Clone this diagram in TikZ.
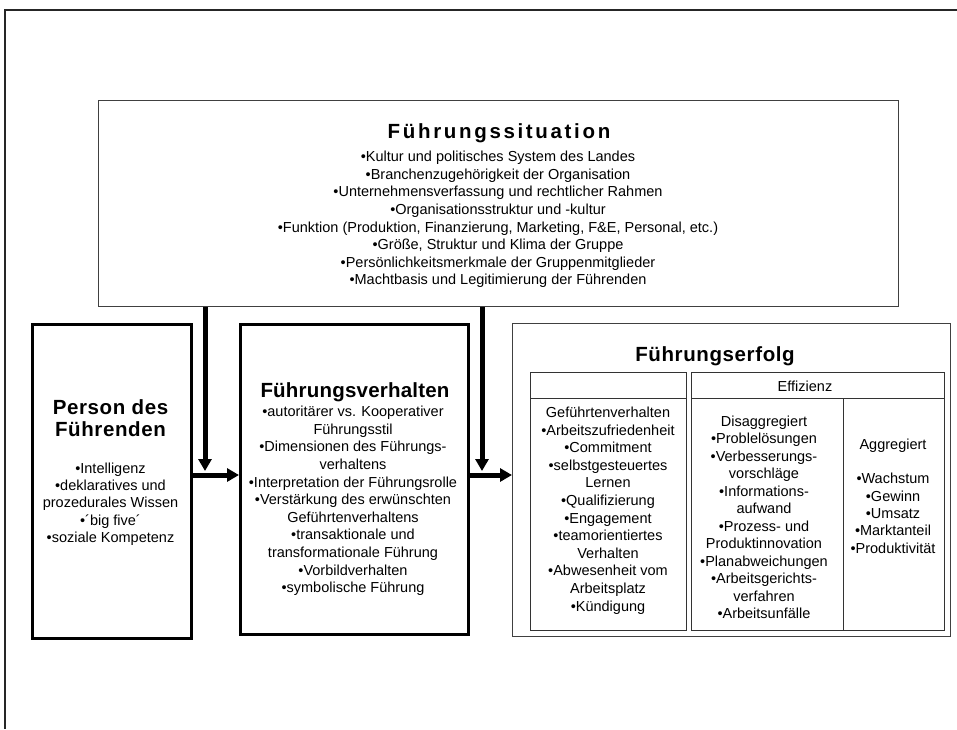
\documentclass[tikz,border=0pt]{standalone}
\usepackage{fontspec}
\setmainfont{Liberation Sans}
\usetikzlibrary{arrows.meta}
\begin{document}
\begin{tikzpicture}[x=1pt,y=-1pt,
  box/.style={draw=black!75, line width=1.3pt, inner sep=0pt, anchor=north west},
  heavybox/.style={draw=black, line width=2.6pt, inner sep=0pt, anchor=north west},
  cell/.style={draw=black!80, line width=1pt, inner sep=0pt, anchor=north west},
  ttl/.style={font=\fontsize{20.5}{22}\selectfont\bfseries\addfontfeature{LetterSpace=3}, align=center, inner sep=0pt},
  body/.style={font=\fontsize{14.5}{17.6}\selectfont, align=center, inner sep=0pt},
  arr/.style={line width=5pt, -{Triangle[length=12pt,width=13pt]}},
]
\useasboundingbox (0,0) rectangle (957,729);
% outer frame
\draw[line width=2pt, black!85] (957,10) -- (5,10) -- (5,729);

% Fuehrungssituation
\node[box, minimum width=800pt, minimum height=206pt] (sit) at (98,100) {};
\node[ttl, font=\fontsize{20.5}{22}\selectfont\bfseries\addfontfeature{LetterSpace=13}] (sitt) at (499,133) {Führungssituation};
\node[body] (sitb) at (498,219.5) {•Kultur und politisches System des Landes\\
•Branchenzugehörigkeit der Organisation\\
•Unternehmensverfassung und rechtlicher Rahmen\\
•Organisationsstruktur und -kultur\\
•Funktion (Produktion, Finanzierung, Marketing, F\&E, Personal, etc.)\\
•Größe, Struktur und Klima der Gruppe\\
•Persönlichkeitsmerkmale der Gruppenmitglieder\\
•Machtbasis und Legitimierung der Führenden};

% Person des Fuehrenden
\node[heavybox, minimum width=159pt, minimum height=314pt] (pers) at (31,323) {};
\node[ttl] (perst) at (110.5,418) {Person des\\Führenden};
\node[body, font=\fontsize{14.5}{17.25}\selectfont] (persb) at (110.5,504) {•Intelligenz\\
•deklaratives und\\
prozedurales Wissen\\
•´big five´\\
•soziale Kompetenz};

% Fuehrungsverhalten
\node[heavybox, minimum width=228pt, minimum height=310pt] (verh) at (239,323) {};
\node[ttl, font=\fontsize{20.5}{22}\selectfont\bfseries\addfontfeature{LetterSpace=1}] (verht) at (355,392) {Führungsverhalten};
\node[body] (verhb) at (353,501) {•autoritärer vs. Kooperativer\\
Führungsstil\\
•Dimensionen des Führungs-\\
verhaltens\\
•Interpretation der Führungsrolle\\
•Verstärkung des erwünschten\\
Geführtenverhaltens\\
•transaktionale und\\
transformationale Führung\\
•Vorbildverhalten\\
•symbolische Führung};

% Fuehrungserfolg
\node[box, minimum width=438pt, minimum height=313pt] (erf) at (512,323) {};
\node[ttl] (erft) at (715,356) {Führungserfolg};
\node[cell, minimum width=156pt, minimum height=26pt] (h1) at (530,372) {};
\node[cell, minimum width=253pt, minimum height=26pt] (h2) at (691,372) {};
\node[body] (efft) at (805,386) {Effizienz};
\node[cell, minimum width=156pt, minimum height=232pt] (c1) at (530,398) {};
\node[cell, minimum width=152pt, minimum height=232pt] (c2) at (691,398) {};
\node[cell, minimum width=101pt, minimum height=232pt] (c3) at (843,398) {};
\node[body] (c1b) at (608,510.5) {Geführtenverhalten\\
•Arbeitszufriedenheit\\
•Commitment\\
•selbstgesteuertes\\
Lernen\\
•Qualifizierung\\
•Engagement\\
•teamorientiertes\\
Verhalten\\
•Abwesenheit vom\\
Arbeitsplatz\\
•Kündigung};
\node[body, font=\fontsize{14.5}{17.5}\selectfont] (c2b) at (764,517.5) {Disaggregiert\\
•Problelösungen\\
•Verbesserungs-\\
vorschläge\\
•Informations-\\
aufwand\\
•Prozess- und\\
Produktinnovation\\
•Planabweichungen\\
•Arbeitsgerichts-\\
verfahren\\
•Arbeitsunfälle};
\node[body, font=\fontsize{14.5}{17.3}\selectfont] (c3b) at (893,496) {Aggregiert\\
\mbox{}\\
•Wachstum\\
•Gewinn\\
•Umsatz\\
•Marktanteil\\
•Produktivität};

% arrows
\coordinate (v1) at (205,471);
\coordinate (v2) at (482,471);
\coordinate (hy) at (0,475);
\draw[arr] (sit.south -| v1) -- (v1);
\draw[arr] (sit.south -| v2) -- (v2);
\draw[arr] (pers.east |- hy) -- (verh.west |- hy);
\draw[arr] (verh.east |- hy) -- (erf.west |- hy);
\end{tikzpicture}
\end{document}
